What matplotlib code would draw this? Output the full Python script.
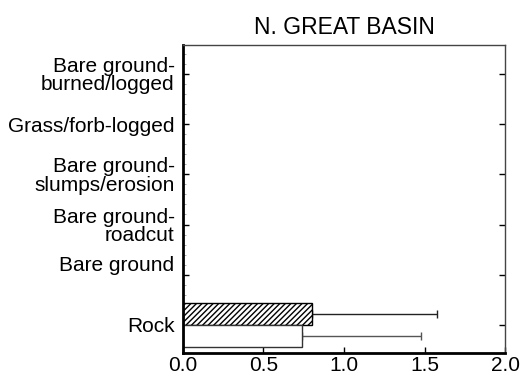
import matplotlib
matplotlib.use("Agg")
import matplotlib.pyplot as p
from matplotlib.ticker import MultipleLocator

p.rcParams['font.family'] = ['Liberation Sans', 'DejaVu Sans']

categories = ["Rock", "Bare ground", "Bare ground-\nroadcut",
              "Bare ground-\nslumps/erosion", "Grass/forb-logged",
              "Bare ground-\nburned/logged"]
hatched_vals = [0.80, 0, 0, 0, 0, 0]
hatched_err = [0.78, 0, 0, 0, 0, 0]
open_vals = [0.74, 0, 0, 0, 0, 0]
open_err = [0.74, 0, 0, 0, 0, 0]
xticks = [0.0, 0.5, 1.0, 1.5, 2.0]

fig = p.figure(figsize=(5.24, 3.80), dpi=100)
ax = fig.add_axes([0.349, 0.071, 0.615, 0.811])

pos = list(range(len(categories)))
h = 0.44
up = [i + 0.22 for i in pos]
dn = [i - 0.22 for i in pos]

# only draw nonzero entries
for y, v, e in zip(up, hatched_vals, hatched_err):
    if v > 0:
        ax.errorbar(v, y, xerr=[[0], [e]], fmt='none', ecolor='#222222',
                    elinewidth=1, capsize=3, capthick=1, zorder=1)
        ax.barh(y, v, height=h, color='white', edgecolor='black',
                hatch='//////', linewidth=1, zorder=2)
for y, v, e in zip(dn, open_vals, open_err):
    if v > 0:
        ax.errorbar(v, y, xerr=[[0], [e]], fmt='none', ecolor='#555555',
                    elinewidth=1, capsize=3, capthick=1, zorder=1)
        ax.barh(y, v, height=h, color='white', edgecolor='#333333',
                linewidth=1, zorder=2)

ax.set_xlim(0, 2.0)
ax.set_ylim(-0.56, 5.58)
ax.set_xticks(xticks)
ax.set_xticklabels(["%.1f" % t for t in xticks], fontsize=15)
ax.set_yticks(pos)
ax.set_yticklabels(categories, fontsize=15, linespacing=0.95)
ax.yaxis.set_minor_locator(MultipleLocator(0.2))

# "Bare ground" sits a bit above its tick in the original
ax.get_yticklabels()[1].set_verticalalignment('bottom')

ax.tick_params(axis='y', which='major', direction='in', length=4, width=1,
               right=True, pad=6)
ax.tick_params(axis='y', which='minor', direction='in', length=2, width=0.5,
               right=False, color='#888888')
ax.tick_params(axis='x', direction='in', length=4, width=1, top=False, pad=2)

ax.spines['left'].set_linewidth(2)
ax.spines['bottom'].set_linewidth(2)
ax.spines['top'].set_linewidth(1)
ax.spines['right'].set_linewidth(1)
ax.spines['top'].set_color('#444444')
ax.spines['right'].set_color('#444444')

ax.set_title("N. GREAT BASIN", fontsize=16.5, pad=8)

p.savefig("out.png", dpi=100)
